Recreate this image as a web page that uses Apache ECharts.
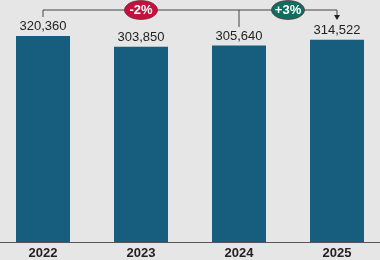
<!DOCTYPE html>
<html><head><meta charset="utf-8">
<script src="https://cdn.jsdelivr.net/npm/echarts@6/dist/echarts.min.js"></script>
<style>html,body{margin:0;padding:0;background:#e6e6e6;overflow:hidden;width:380px;height:260px}#c{position:absolute;left:-6px;top:0;width:392px;height:260px}</style>
</head><body><div id="c"></div>
<script>
const categories = ['2022', '2023', '2024', '2025'];
const values = [320360, 303850, 305640, 314522];
const changeLabels = ['-2%', '+3%'];
const changeColors = ['#c4123f', '#0e6f60'];

const chart = echarts.init(document.getElementById('c'), null, {renderer: 'canvas'});
const font = '"Liberation Sans", Arial, sans-serif';
chart.setOption({
  backgroundColor: '#e6e6e6',
  animation: false,
  grid: {left: 0, right: 0, top: 17, bottom: 15.5},
  xAxis: {
    type: 'category', data: categories,
    axisLine: {lineStyle: {color: '#555', width: 1}},
    axisTick: {show: false},
    axisLabel: {color: '#222', fontWeight: 'bold', fontSize: 13, fontFamily: font, margin: 5}
  },
  yAxis: {type: 'value', min: 0, max: 350000, show: false, splitLine: {show: false}},
  series: [{
    type: 'bar', data: values, barWidth: 54,
    itemStyle: {color: '#175e7e'},
    label: {show: true, position: 'top', distance: 3, color: '#222', fontSize: 13, fontFamily: font,
      formatter: p => p.value.toLocaleString('en-US')}
  }]
});

const px = i => chart.convertToPixel({xAxisIndex: 0}, categories[i]);
const x0 = px(0), x2 = px(2), x3 = px(3);
const ly = 10;
const lineStyle = {stroke: '#444', lineWidth: 1};
function badge(cx, text, color) {
  return {
    type: 'group', x: cx, y: ly, children: [
      {type: 'ellipse', shape: {cx: 0, cy: 0, rx: text.length > 3 ? 18.5 : 16.5, ry: 9.5}, style: {fill: color, stroke: '#5a1020', lineWidth: 0.6}},
      {type: 'text', style: {text: text, x: 0, y: 0, fill: '#fff', font: 'bold 13px ' + font, textAlign: 'center', textVerticalAlign: 'middle'}}
    ]
  };
}
chart.setOption({
  graphic: [
    {type: 'line', shape: {x1: x0, y1: ly, x2: x3, y2: ly}, style: lineStyle},
    {type: 'line', shape: {x1: x0, y1: ly, x2: x0, y2: ly + 7}, style: lineStyle},
    {type: 'line', shape: {x1: x2, y1: ly, x2: x2, y2: ly + 17}, style: lineStyle},
    {type: 'line', shape: {x1: x3, y1: ly, x2: x3, y2: ly + 6}, style: lineStyle},
    {type: 'polygon', shape: {points: [[x3 - 3, ly + 5], [x3 + 3, ly + 5], [x3, ly + 10]]}, style: {fill: '#222'}},
    badge((x0 + x2) / 2, changeLabels[0], changeColors[0]),
    badge((x2 + x3) / 2, changeLabels[1], changeColors[1])
  ]
});
</script></body></html>
